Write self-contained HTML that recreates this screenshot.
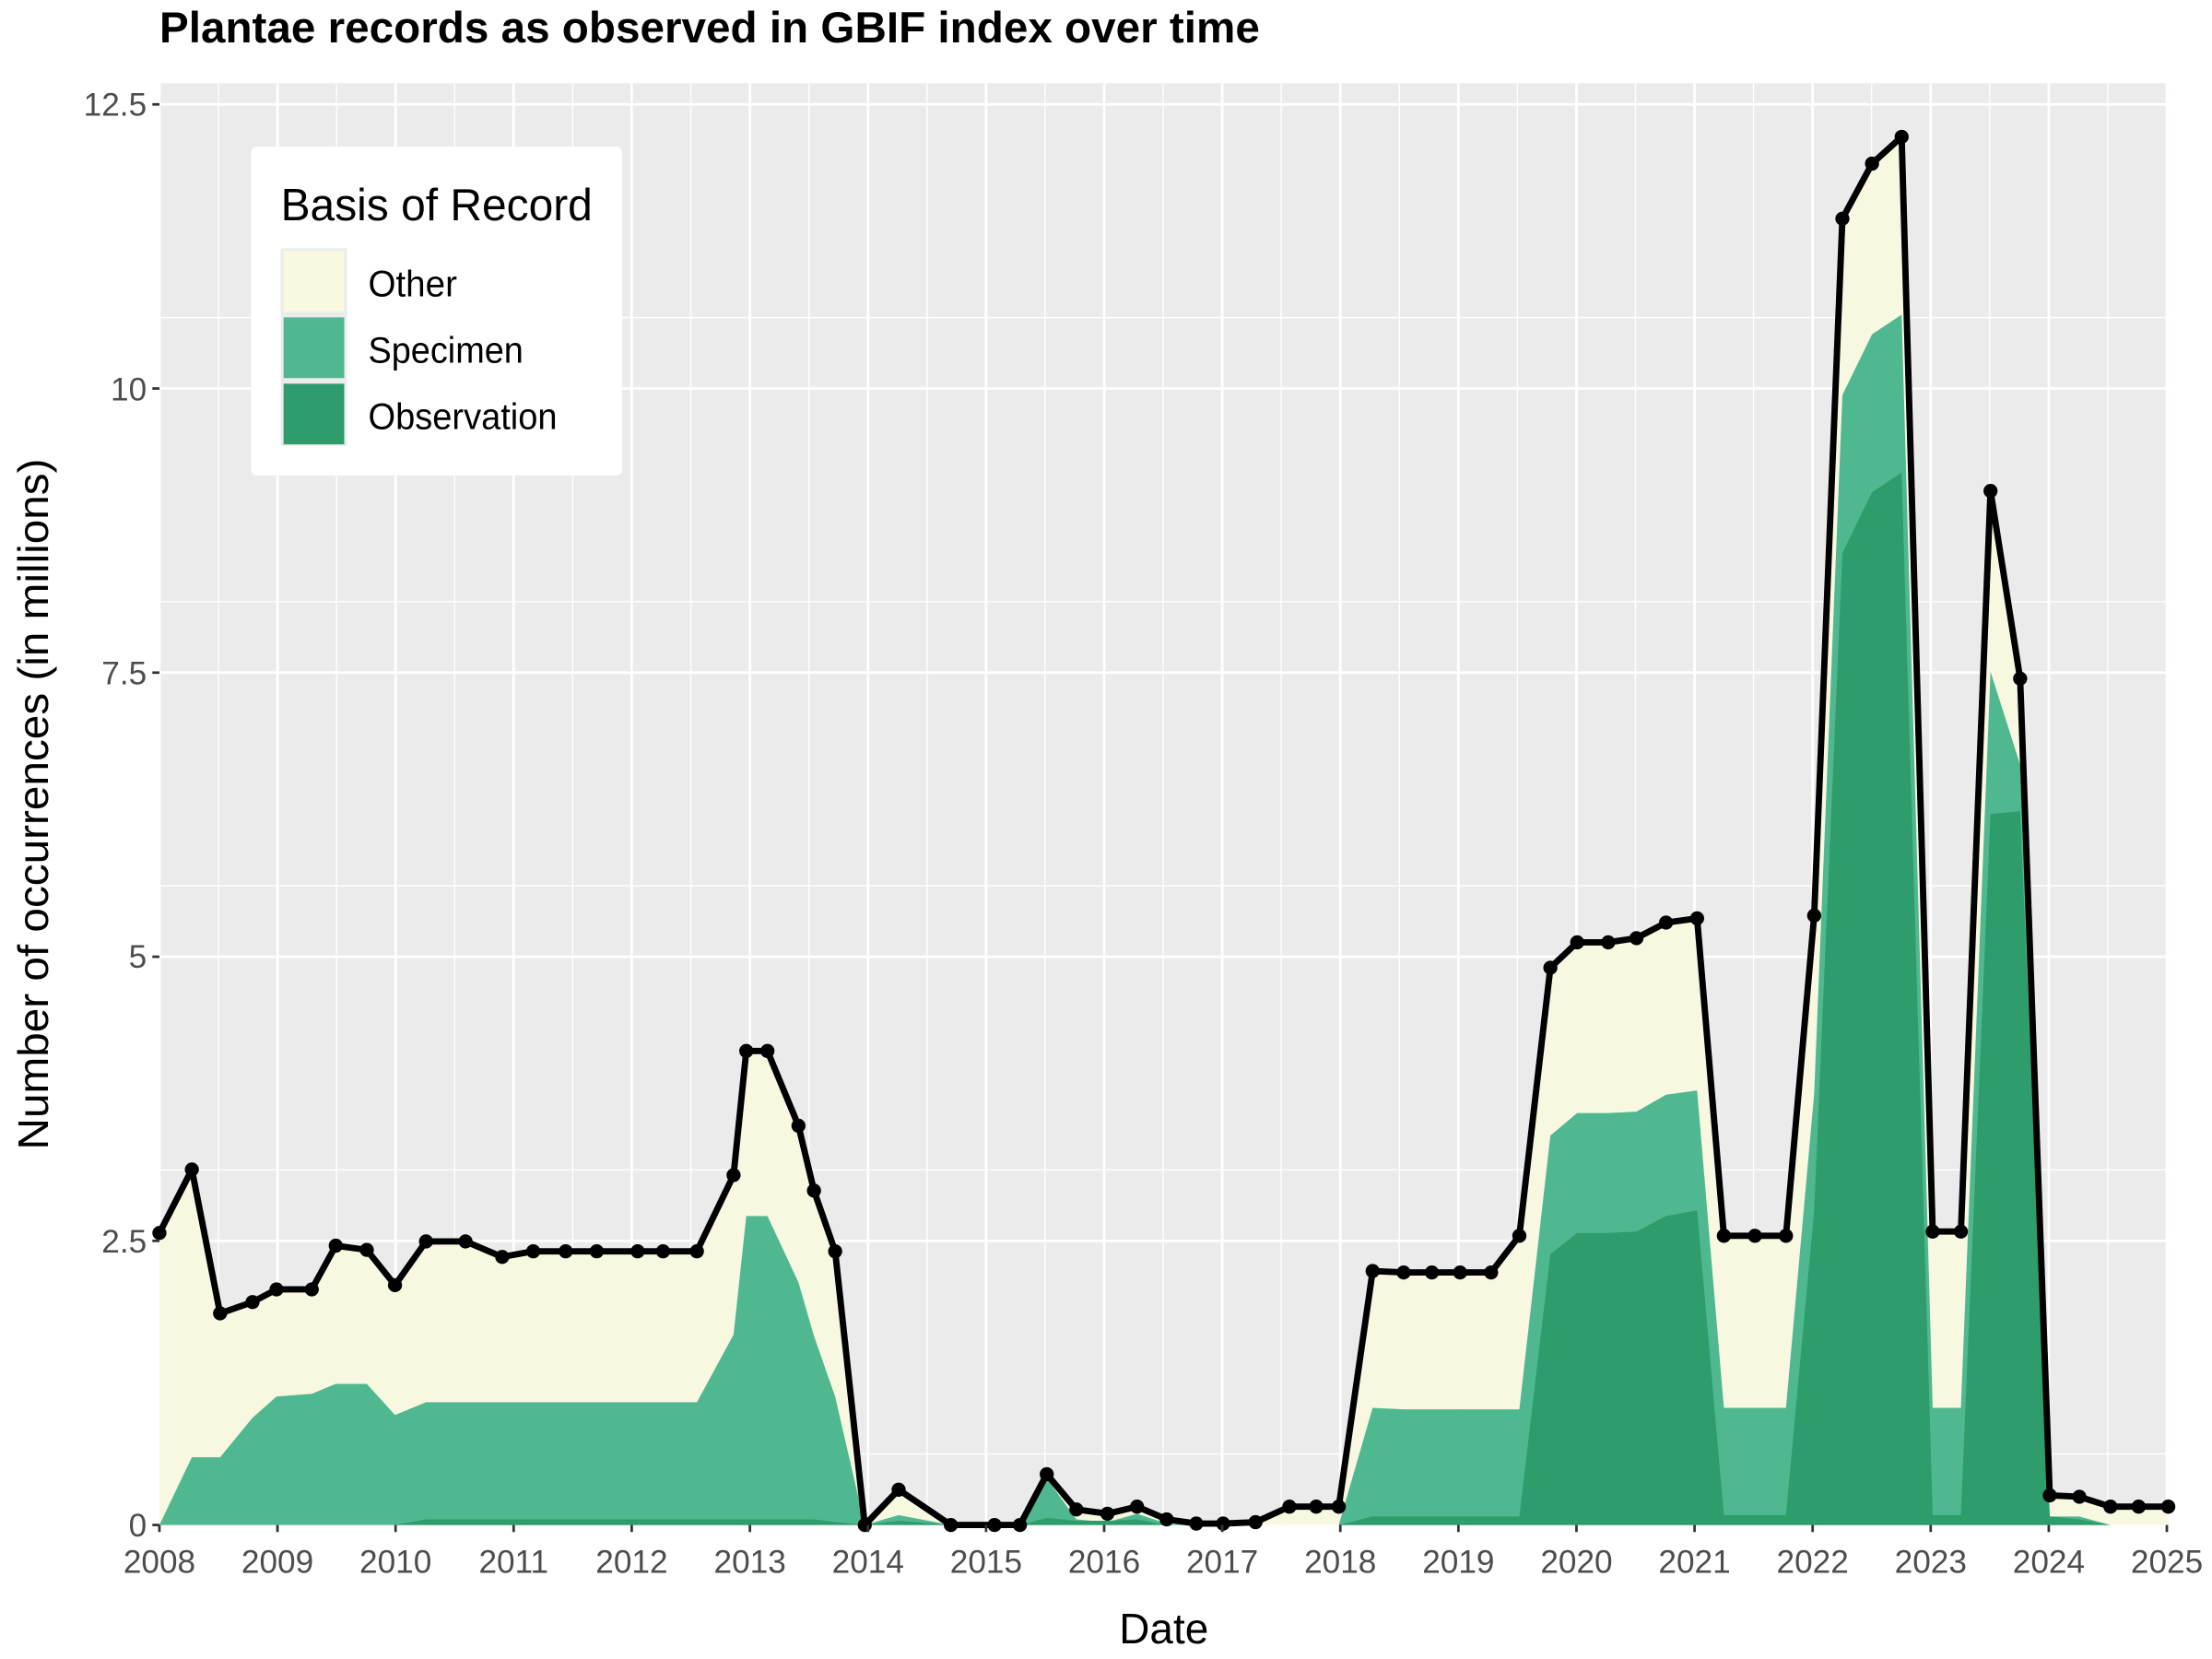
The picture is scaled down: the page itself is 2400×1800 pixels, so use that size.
<!DOCTYPE html>
<html><head><meta charset="utf-8"><style>html,body{margin:0;padding:0;background:#fff}svg{display:block}</style></head>
<body>
<svg width="2400" height="1800" viewBox="0 0 1568 1176" xmlns="http://www.w3.org/2000/svg" font-family="Liberation Sans, sans-serif">
<rect x="0" y="0" width="1568" height="1176" fill="#fff"/>
<rect x="113" y="59" width="1424" height="1022" fill="#EBEBEB"/>
<g stroke="#fff" stroke-width="0.9">
<line x1="113" x2="1537" y1="1030.7" y2="1030.7"/><line x1="113" x2="1537" y1="829.3" y2="829.3"/><line x1="113" x2="1537" y1="627.9" y2="627.9"/><line x1="113" x2="1537" y1="426.5" y2="426.5"/><line x1="113" x2="1537" y1="225.1" y2="225.1"/>
<g id="mv">
<line y1="59" y2="1081" x1="154.9" x2="154.9"/><line y1="59" y2="1081" x1="238.6" x2="238.6"/><line y1="59" y2="1081" x1="322.3" x2="322.3"/><line y1="59" y2="1081" x1="406" x2="406"/><line y1="59" y2="1081" x1="489.7" x2="489.7"/><line y1="59" y2="1081" x1="573.4" x2="573.4"/><line y1="59" y2="1081" x1="657.1" x2="657.1"/><line y1="59" y2="1081" x1="740.8" x2="740.8"/><line y1="59" y2="1081" x1="824.5" x2="824.5"/><line y1="59" y2="1081" x1="908.2" x2="908.2"/><line y1="59" y2="1081" x1="991.9" x2="991.9"/><line y1="59" y2="1081" x1="1075.6" x2="1075.6"/><line y1="59" y2="1081" x1="1159.3" x2="1159.3"/><line y1="59" y2="1081" x1="1243" x2="1243"/><line y1="59" y2="1081" x1="1326.7" x2="1326.7"/><line y1="59" y2="1081" x1="1410.4" x2="1410.4"/><line y1="59" y2="1081" x1="1494.1" x2="1494.1"/>
</g>
</g>
<g stroke="#fff" stroke-width="1.8">
<line x1="113" x2="1537" y1="1081" y2="1081"/><line x1="113" x2="1537" y1="879.6" y2="879.6"/><line x1="113" x2="1537" y1="678.2" y2="678.2"/><line x1="113" x2="1537" y1="476.8" y2="476.8"/><line x1="113" x2="1537" y1="275.4" y2="275.4"/><line x1="113" x2="1537" y1="74" y2="74"/>
<line y1="59" y2="1081" x1="113" x2="113"/><line y1="59" y2="1081" x1="196.7" x2="196.7"/><line y1="59" y2="1081" x1="280.4" x2="280.4"/><line y1="59" y2="1081" x1="364.1" x2="364.1"/><line y1="59" y2="1081" x1="447.8" x2="447.8"/><line y1="59" y2="1081" x1="531.6" x2="531.6"/><line y1="59" y2="1081" x1="615.3" x2="615.3"/><line y1="59" y2="1081" x1="699" x2="699"/><line y1="59" y2="1081" x1="782.7" x2="782.7"/><line y1="59" y2="1081" x1="866.4" x2="866.4"/><line y1="59" y2="1081" x1="950.1" x2="950.1"/><line y1="59" y2="1081" x1="1033.8" x2="1033.8"/><line y1="59" y2="1081" x1="1117.5" x2="1117.5"/><line y1="59" y2="1081" x1="1201.2" x2="1201.2"/><line y1="59" y2="1081" x1="1284.9" x2="1284.9"/><line y1="59" y2="1081" x1="1368.6" x2="1368.6"/><line y1="59" y2="1081" x1="1452.3" x2="1452.3"/><line y1="59" y2="1081" x1="1536" x2="1536"/>
</g>
<!-- Other -->
<polygon fill="#F9F9E0" fill-opacity="0.95" points="113,874 136,829 156,931 179,923 196,914 221,914 238,883 260,886 280,911 302,880 330,880 356,891 378,887 401,887 423,887 452,887 470,887 494,887 520,833 529,745 544,745 566,798 577,844 592,887 613,1081 637,1056 674,1081 705,1081 723,1081 742,1045 763,1070 785,1073 806,1068 827,1077 848,1080 867,1080 890,1079 914,1068 933,1068 949,1068 973,901 995,902 1015,902 1035,902 1057,902 1077,876 1099,686 1118,668 1140,668 1160,665 1181,654 1203,651 1222,876 1244,876 1266,876 1286,649 1306,155 1327,116 1348,97 1370,873 1390,873 1411,348 1432,481 1453,1060 1474,1061 1496,1068 1516,1068 1537,1068 1537,1081 113,1081"/>
<!-- Specimen -->
<polygon fill="#50B890" points="113,1081 136,1033 156,1033 179,1005 196,990 221,988 238,981 260,981 280,1003 302,994 330,994 356,994 378,994 401,994 423,994 452,994 470,994 494,994 520,946 529,862 544,862 566,909 577,947 592,990 613,1081 637,1074 674,1081 705,1081 723,1081 742,1048 763,1077 785,1079 806,1073 827,1080 848,1081 949,1081 973,998 995,999 1015,999 1035,999 1057,999 1077,999 1099,805 1118,789 1140,789 1160,788 1181,776 1203,773 1222,998 1244,998 1266,998 1286,775 1306,280 1327,237 1348,223 1370,998 1390,998 1411,476 1432,542 1453,1075 1474,1075 1496,1081 1537,1081 113,1081"/>
<!-- Observation -->
<polygon fill="#2E9C6B" points="113,1081 280,1081 302,1077 577,1077 592,1079 613,1081 637,1078 674,1081 723,1081 742,1076 763,1078 785,1078 806,1077 827,1081 949,1081 973,1075 1077,1075 1099,889 1118,874 1140,874 1160,873 1181,862 1203,858 1222,1074 1244,1074 1266,1074 1286,858 1306,392 1327,349 1348,335 1370,1074 1390,1074 1411,577 1432,575 1453,1075 1474,1077 1496,1081 1537,1081"/>
<!-- total line -->
<polyline fill="none" stroke="#000" stroke-width="4.5" stroke-linejoin="round" points="113,874 136,829 156,931 179,923 196,914 221,914 238,883 260,886 280,911 302,880 330,880 356,891 378,887 401,887 423,887 452,887 470,887 494,887 520,833 529,745 544,745 566,798 577,844 592,887 613,1081 637,1056 674,1081 705,1081 723,1081 742,1045 763,1070 785,1073 806,1068 827,1077 848,1080 867,1080 890,1079 914,1068 933,1068 949,1068 973,901 995,902 1015,902 1035,902 1057,902 1077,876 1099,686 1118,668 1140,668 1160,665 1181,654 1203,651 1222,876 1244,876 1266,876 1286,649 1306,155 1327,116 1348,97 1370,873 1390,873 1411,348 1432,481 1453,1060 1474,1061 1496,1068 1516,1068 1537,1068"/>
<g fill="#000">
<circle cx="113" cy="874" r="5"/><circle cx="136" cy="829" r="5"/><circle cx="156" cy="931" r="5"/><circle cx="179" cy="923" r="5"/><circle cx="196" cy="914" r="5"/><circle cx="221" cy="914" r="5"/><circle cx="238" cy="883" r="5"/><circle cx="260" cy="886" r="5"/><circle cx="280" cy="911" r="5"/><circle cx="302" cy="880" r="5"/><circle cx="330" cy="880" r="5"/><circle cx="356" cy="891" r="5"/><circle cx="378" cy="887" r="5"/><circle cx="401" cy="887" r="5"/><circle cx="423" cy="887" r="5"/><circle cx="452" cy="887" r="5"/><circle cx="470" cy="887" r="5"/><circle cx="494" cy="887" r="5"/><circle cx="520" cy="833" r="5"/><circle cx="529" cy="745" r="5"/><circle cx="544" cy="745" r="5"/><circle cx="566" cy="798" r="5"/><circle cx="577" cy="844" r="5"/><circle cx="592" cy="887" r="5"/><circle cx="613" cy="1081" r="5"/><circle cx="637" cy="1056" r="5"/><circle cx="674" cy="1081" r="5"/><circle cx="705" cy="1081" r="5"/><circle cx="723" cy="1081" r="5"/><circle cx="742" cy="1045" r="5"/><circle cx="763" cy="1070" r="5"/><circle cx="785" cy="1073" r="5"/><circle cx="806" cy="1068" r="5"/><circle cx="827" cy="1077" r="5"/><circle cx="848" cy="1080" r="5"/><circle cx="867" cy="1080" r="5"/><circle cx="890" cy="1079" r="5"/><circle cx="914" cy="1068" r="5"/><circle cx="933" cy="1068" r="5"/><circle cx="949" cy="1068" r="5"/><circle cx="973" cy="901" r="5"/><circle cx="995" cy="902" r="5"/><circle cx="1015" cy="902" r="5"/><circle cx="1035" cy="902" r="5"/><circle cx="1057" cy="902" r="5"/><circle cx="1077" cy="876" r="5"/><circle cx="1099" cy="686" r="5"/><circle cx="1118" cy="668" r="5"/><circle cx="1140" cy="668" r="5"/><circle cx="1160" cy="665" r="5"/><circle cx="1181" cy="654" r="5"/><circle cx="1203" cy="651" r="5"/><circle cx="1222" cy="876" r="5"/><circle cx="1244" cy="876" r="5"/><circle cx="1266" cy="876" r="5"/><circle cx="1286" cy="649" r="5"/><circle cx="1306" cy="155" r="5"/><circle cx="1327" cy="116" r="5"/><circle cx="1348" cy="97" r="5"/><circle cx="1370" cy="873" r="5"/><circle cx="1390" cy="873" r="5"/><circle cx="1411" cy="348" r="5"/><circle cx="1432" cy="481" r="5"/><circle cx="1453" cy="1060" r="5"/><circle cx="1474" cy="1061" r="5"/><circle cx="1496" cy="1068" r="5"/><circle cx="1516" cy="1068" r="5"/><circle cx="1537" cy="1068" r="5"/>
</g>
<!-- legend -->
<rect x="178" y="104" width="263" height="233" rx="4" fill="#fff"/>
<text x="199" y="156" font-size="32" textLength="221" lengthAdjust="spacingAndGlyphs">Basis of Record</text>
<rect x="199" y="176" width="47" height="140" fill="#EBEBEB"/>
<rect x="201" y="178" width="43" height="43" fill="#F9F9E0"/>
<rect x="201" y="225" width="43" height="43" fill="#50B890"/>
<rect x="201" y="272" width="43" height="43" fill="#2E9C6B"/>
<text x="261" y="210" font-size="26" textLength="63" lengthAdjust="spacingAndGlyphs">Other</text>
<text x="261" y="257" font-size="26" textLength="110" lengthAdjust="spacingAndGlyphs">Specimen</text>
<text x="261" y="304" font-size="26" textLength="134" lengthAdjust="spacingAndGlyphs">Observation</text>
<!-- title -->
<text x="113" y="30" font-size="31" font-weight="bold" textLength="780" lengthAdjust="spacingAndGlyphs">Plantae records as observed in GBIF index over time</text>
<!-- y ticks -->
<g stroke="#333" stroke-width="1.8">
<line x1="108" x2="113" y1="1081" y2="1081"/><line x1="108" x2="113" y1="879.6" y2="879.6"/><line x1="108" x2="113" y1="678.2" y2="678.2"/><line x1="108" x2="113" y1="476.8" y2="476.8"/><line x1="108" x2="113" y1="275.4" y2="275.4"/><line x1="108" x2="113" y1="74" y2="74"/>
<line y1="1081" y2="1086" x1="113" x2="113"/><line y1="1081" y2="1086" x1="196.7" x2="196.7"/><line y1="1081" y2="1086" x1="280.4" x2="280.4"/><line y1="1081" y2="1086" x1="364.1" x2="364.1"/><line y1="1081" y2="1086" x1="447.8" x2="447.8"/><line y1="1081" y2="1086" x1="531.6" x2="531.6"/><line y1="1081" y2="1086" x1="615.3" x2="615.3"/><line y1="1081" y2="1086" x1="699" x2="699"/><line y1="1081" y2="1086" x1="782.7" x2="782.7"/><line y1="1081" y2="1086" x1="866.4" x2="866.4"/><line y1="1081" y2="1086" x1="950.1" x2="950.1"/><line y1="1081" y2="1086" x1="1033.8" x2="1033.8"/><line y1="1081" y2="1086" x1="1117.5" x2="1117.5"/><line y1="1081" y2="1086" x1="1201.2" x2="1201.2"/><line y1="1081" y2="1086" x1="1284.9" x2="1284.9"/><line y1="1081" y2="1086" x1="1368.6" x2="1368.6"/><line y1="1081" y2="1086" x1="1452.3" x2="1452.3"/><line y1="1081" y2="1086" x1="1536" x2="1536"/>
</g>
<g fill="#4D4D4D" font-size="23" text-anchor="end">
<text x="104" y="1089" >0</text><text x="104" y="888">2.5</text><text x="104" y="686">5</text><text x="104" y="485">7.5</text><text x="104" y="284">10</text><text x="104" y="82">12.5</text>
</g>
<g fill="#4D4D4D" font-size="23" text-anchor="middle">
<text x="113" y="1115">2008</text><text x="196.7" y="1115">2009</text><text x="280.4" y="1115">2010</text><text x="364.1" y="1115">2011</text><text x="447.8" y="1115">2012</text><text x="531.6" y="1115">2013</text><text x="615.3" y="1115">2014</text><text x="699" y="1115">2015</text><text x="782.7" y="1115">2016</text><text x="866.4" y="1115">2017</text><text x="950.1" y="1115">2018</text><text x="1033.8" y="1115">2019</text><text x="1117.5" y="1115">2020</text><text x="1201.2" y="1115">2021</text><text x="1284.9" y="1115">2022</text><text x="1368.6" y="1115">2023</text><text x="1452.3" y="1115">2024</text><text x="1536" y="1115">2025</text>
</g>
<text x="825" y="1165" font-size="30" text-anchor="middle">Date</text>
<text transform="translate(34,570) rotate(-90)" font-size="30" text-anchor="middle" textLength="490" lengthAdjust="spacingAndGlyphs">Number of occurrences (in millions)</text>
</svg>
</body></html>
